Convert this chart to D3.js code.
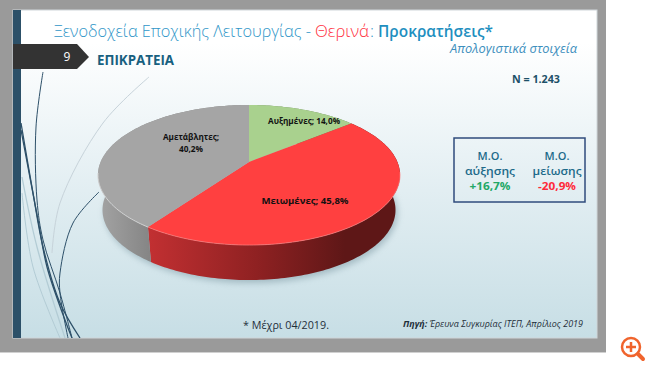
<!DOCTYPE html>
<html>
<head>
<meta charset="utf-8">
<script src="https://cdn.jsdelivr.net/npm/d3@7"></script>
<style>
html, body { margin: 0; padding: 0; background: #fff; }
svg { display: block; }
text { font-family: "Open Sans", "Noto Sans", sans-serif; }
</style>
</head>
<body>
<div id="chart"></div>
<script>
// chart data
var categories = ["Αυξημένες", "Μειωμένες", "Αμετάβλητες"];
var shares = [14.0, 45.8, 40.2];
var shareLabels = ["14,0%", "45,8%", "40,2%"];
var topColors = ["#a9d18e", "#ff4040", "#a5a5a5"];

var width = 650, height = 366;

var svg = d3.select("#chart").append("svg")
    .attr("width", width)
    .attr("height", height);

var defs = svg.append("defs");

var bg = defs.append("linearGradient").attr("id", "slidebg")
    .attr("x1", 0).attr("y1", 0).attr("x2", 0).attr("y2", 1);
bg.append("stop").attr("offset", "0.1").attr("stop-color", "#ffffff");
bg.append("stop").attr("offset", "0.55").attr("stop-color", "#e2eef2");
bg.append("stop").attr("offset", "1").attr("stop-color", "#c7dee5");

// side wall gradients, left to right in page space
function sideGradient(id, x1, x2, stops) {
    var g = defs.append("linearGradient").attr("id", id)
        .attr("gradientUnits", "userSpaceOnUse")
        .attr("x1", x1).attr("y1", 0).attr("x2", x2).attr("y2", 0);
    stops.forEach(function(s) {
        g.append("stop").attr("offset", s[0]).attr("stop-color", s[1]);
    });
}
sideGradient("sideGrey", 98, 150, [[0, "#a4a4a4"], [1, "#858585"]]);
sideGradient("sideRed", 148, 345, [[0, "#c23032"], [0.55, "#8f2122"], [1, "#5e1717"]]);
sideGradient("sideGreen", 249, 402, [[0, "#6f8a5d"], [1, "#5b7249"]]);

defs.append("filter").attr("id", "soft")
    .attr("x", "-20%").attr("y", "-20%").attr("width", "140%").attr("height", "140%")
    .append("feGaussianBlur").attr("stdDeviation", 3);

defs.append("clipPath").attr("id", "slideclip").append("rect")
    .attr("x", 13).attr("y", 10).attr("width", 260).attr("height", 328);

// page and slide
svg.append("rect").attr("x", 0).attr("y", 0).attr("width", 606).attr("height", 352).attr("fill", "#9a9a9a");
svg.append("rect").attr("x", 0).attr("y", 352).attr("width", 606).attr("height", 1).attr("fill", "#d0d0d0");
svg.append("rect").attr("x", 13).attr("y", 10).attr("width", 584).attr("height", 328)
    .attr("fill", "url(#slidebg)").attr("stroke", "#cfd6d9").attr("stroke-width", 1);

// background wisps
var wisps = svg.append("g").attr("clip-path", "url(#slideclip)").attr("fill", "none");
var wispLine = d3.line().curve(d3.curveCatmullRom);
var wispData = [
    [[[149,77],[103,123],[60,203],[52,253]], "#c7d3da", 1],
    [[[22,177],[37,247],[65,338]], "#b3ccd5", 1.3],
    [[[22,193],[33,267],[60,338]], "#b3ccd5", 1],
    [[[43,72],[36,127],[37,200],[43,240],[60,293],[72,338]], "#2d5069", 1],
    [[[21,123],[33,193],[43,247],[60,303],[80,338]], "#2d5069", 1.3],
    [[[21,130],[38,220],[47,267],[65,320],[72,338]], "#2d5069", 1.3],
    [[[99,192],[73,223],[60,273],[60,293],[68,338]], "#2d5069", 1]
];
wispData.forEach(function(d) {
    wisps.append("path").attr("d", wispLine(d[0])).attr("stroke", d[1]).attr("stroke-width", d[2]);
});

// left bar and number tag
svg.append("rect").attr("x", 13).attr("y", 10).attr("width", 8).attr("height", 328).attr("fill", "#2c5068");
svg.append("path").attr("d", "M13,44 H77 L89,57 L77,69 H13 Z").attr("fill", "#333333");
svg.append("text").attr("x", 67).attr("y", 61).attr("text-anchor", "middle")
    .attr("fill", "#ffffff").attr("font-size", 12).text("9");

// title pieces
function titlePart(x, w, str, color, weight) {
    svg.append("text").attr("x", x).attr("y", 37).attr("font-size", 16.5)
        .attr("font-weight", weight).attr("fill", color)
        .attr("textLength", w).attr("lengthAdjust", "spacingAndGlyphs").text(str);
}
titlePart(54, 257, "Ξενοδοχεία Εποχικής Λειτουργίας -", "#2f96c8", 300);
titlePart(315, 54, "Θερινά", "#ff3040", 300);
titlePart(370, 4, ":", "#2f96c8", 300);
titlePart(378, 115, "Προκρατήσεις*", "#1f8fc0", 600);

svg.append("text").attr("x", 577).attr("y", 53).attr("text-anchor", "end").attr("font-size", 12)
    .attr("font-style", "italic").attr("fill", "#3d8fbd")
    .attr("textLength", 127).attr("lengthAdjust", "spacingAndGlyphs")
    .text("Απολογιστικά στοιχεία");

svg.append("text").attr("x", 97).attr("y", 64.5).attr("font-size", 14).attr("font-weight", 700)
    .attr("fill", "#17607f").attr("textLength", 77).attr("lengthAdjust", "spacingAndGlyphs")
    .text("ΕΠΙΚΡΑΤΕΙΑ");

svg.append("text").attr("x", 512).attr("y", 82.5).attr("font-size", 11).attr("font-weight", 700)
    .attr("fill", "#1d5068").attr("textLength", 48).attr("lengthAdjust", "spacingAndGlyphs")
    .text("N = 1.243");

// pie, seen in perspective: the unit circle goes through a projection
var cx = 249, cy = 162, depth = 35, lowerScale = 0.97;
var scaleX = 148.4, scaleY = 67.6, persp = 0.186;

function project(angle, r) {
    var u = r * Math.sin(angle), v = r * Math.cos(angle), w = 1 + persp * v;
    return [cx + scaleX * u / w, cy - scaleY * v / w];
}

// rim of the bottom face, a bit narrower than the top one
function lowered(p) {
    return [cx + (p[0] - cx) * lowerScale, p[1] + depth];
}

var pie = d3.pie().sort(null).value(function(d) { return d; });
var slices = pie(shares);

function rimPoints(a0, a1) {
    var n = Math.max(2, Math.ceil((a1 - a0) / 0.02));
    return d3.range(n + 1).map(function(i) { return project(a0 + (a1 - a0) * i / n, 1); });
}

var line = d3.line();

// shadow under the pie
var fullRim = rimPoints(0, 2 * Math.PI).map(function(p) {
    var q = lowered(p);
    return [q[0] + 2, q[1] + 3];
});
svg.append("path").attr("d", line(fullRim) + "Z").attr("fill", "#7d98a3")
    .attr("opacity", 0.55).attr("filter", "url(#soft)");

var sideFills = ["url(#sideGreen)", "url(#sideRed)", "url(#sideGrey)"];

// walls: rim segment and the same segment on the bottom face
slices.forEach(function(s, i) {
    var rim = rimPoints(s.startAngle, s.endAngle);
    var lower = rim.slice().reverse().map(lowered);
    svg.append("path").attr("d", line(rim.concat(lower)) + "Z").attr("fill", sideFills[i]);
});

// top faces
slices.forEach(function(s, i) {
    var pts = [project(0, 0)].concat(rimPoints(s.startAngle, s.endAngle));
    svg.append("path").attr("d", line(pts) + "Z").attr("fill", topColors[i]);
});

// bevel highlight on the front rim
var bevelColors = ["#c4deb0", "#ff8080", "#d2d2d2"];
slices.forEach(function(s, i) {
    var rim = rimPoints(s.startAngle, s.endAngle).filter(function(p) { return p[1] > 172; });
    if (rim.length > 1 && i !== 0) {
        svg.append("path").attr("d", line(rim)).attr("fill", "none")
            .attr("stroke", bevelColors[i]).attr("stroke-width", 1).attr("opacity", i === 1 ? 0.7 : 1);
    }
});

// slice labels
function label(x, y, str, w) {
    svg.append("text").attr("x", x).attr("y", y).attr("text-anchor", "middle")
        .attr("font-size", 9).attr("font-weight", 700).attr("fill", "#111111")
        .attr("textLength", w).attr("lengthAdjust", "spacingAndGlyphs").text(str);
}
label(304, 124, categories[0] + "; " + shareLabels[0], 72);
label(305, 204, categories[1] + "; " + shareLabels[1], 87);
label(191, 140, categories[2] + ";", 56);
label(191, 152, shareLabels[2], 24);

// averages box
svg.append("rect").attr("x", 454).attr("y", 138).attr("width", 131).attr("height", 64)
    .attr("fill", "none").attr("stroke", "#2f4b7c").attr("stroke-width", 1.5);

var boxTitles = ["Μ.Ο.", "Μ.Ο."];
var boxNames = ["αύξησης", "μείωσης"];
var boxValues = ["+16,7%", "-20,9%"];
var boxValueColors = ["#22a866", "#ff2a3a"];
var boxX = [490, 557];
var nameWidth = [50, 49], valueWidth = [41, 38];

boxX.forEach(function(x, i) {
    svg.append("text").attr("x", x).attr("y", 160).attr("text-anchor", "middle").attr("font-size", 11)
        .attr("font-weight", 600).attr("fill", "#1d6a8a").text(boxTitles[i]);
    svg.append("text").attr("x", x).attr("y", 175).attr("text-anchor", "middle").attr("font-size", 11)
        .attr("font-weight", 600).attr("fill", "#1d6a8a")
        .attr("textLength", nameWidth[i]).attr("lengthAdjust", "spacingAndGlyphs").text(boxNames[i]);
    svg.append("text").attr("x", x).attr("y", 190).attr("text-anchor", "middle").attr("font-size", 11)
        .attr("font-weight", 700).attr("fill", boxValueColors[i])
        .attr("textLength", valueWidth[i]).attr("lengthAdjust", "spacingAndGlyphs").text(boxValues[i]);
});

// footnotes
svg.append("text").attr("x", 243).attr("y", 329).attr("font-size", 10.5).attr("fill", "#1f2f3a")
    .attr("textLength", 86).attr("lengthAdjust", "spacingAndGlyphs").text("* Μέχρι 04/2019.");

var source = svg.append("text").attr("x", 403).attr("y", 327).attr("font-size", 8.5)
    .attr("font-style", "italic").attr("fill", "#1f2f3a")
    .attr("textLength", 180).attr("lengthAdjust", "spacingAndGlyphs");
source.append("tspan").attr("font-weight", 700).text("Πηγή:");
source.append("tspan").text(" Έρευνα Συγκυρίας ΙΤΕΠ, Απρίλιος 2019");

// zoom icon in the corner
var icon = svg.append("g").attr("fill", "none").attr("stroke", "#f0642d");
icon.append("circle").attr("cx", 631).attr("cy", 347).attr("r", 9).attr("stroke-width", 2.5);
icon.append("path").attr("d", "M638,354 L643,359").attr("stroke-width", 4).attr("stroke-linecap", "round");
icon.append("path").attr("d", "M626,347 H636 M631,342 V352").attr("stroke-width", 2.5);
</script>
</body>
</html>
